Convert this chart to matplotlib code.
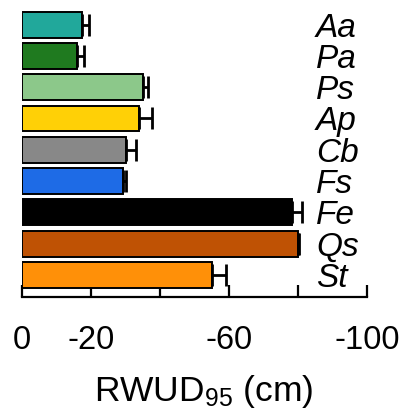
import matplotlib
matplotlib.use("Agg")
import matplotlib.pyplot as plt
import numpy as np

plt.rcParams['font.family'] = ['Liberation Sans', 'DejaVu Sans']
plt.rcParams['mathtext.default'] = 'regular'

species = ["St", "Qs", "Fe", "Fs", "Cb", "Ap", "Ps", "Pa", "Aa"]
rwud95 = [-54.9, -80.0, -78.2, -29.1, -30.1, -33.9, -35.1, -16.0, -17.2]
err = [4.1, 0.3, 2.8, 1.0, 2.9, 3.7, 1.4, 2.0, 2.2]
colors = ["#FF9008", "#BF5204", "#000000", "#1E6BE6", "#888888", "#FFD006", "#8CC88A", "#1F7A1F", "#21A89B"]
xticks = [0, -20, -40, -60, -80, -100]
xticklabels = ["0", "-20", "", "-60", "", "-100"]

fig = plt.figure(figsize=(4.05, 4.08), dpi=100)
ax = fig.add_axes([0.055, 0.272, 0.852, 0.702])

y = np.arange(len(species))
ax.barh(y, rwud95, height=0.83, color=colors, edgecolor="black", linewidth=1.4, zorder=2)
ax.errorbar(rwud95, y, xerr=[err, np.zeros(len(err))], fmt="none", ecolor="black",
            elinewidth=2.0, capsize=8, capthick=2.0, zorder=3)

for i, s in enumerate(species):
    ax.text(-85.1, i - 0.384, s, fontsize=24, style="italic", ha="left", va="baseline")

ax.set_xlim(0, -100)
ax.set_ylim(-0.71, 8.45)
ax.set_xticks(xticks)
ax.set_xticklabels(xticklabels, fontsize=23.5)
ax.set_yticks([])
for sp in ["left", "right", "top"]:
    ax.spines[sp].set_visible(False)
ax.spines["bottom"].set_linewidth(1.6)
ax.tick_params(axis="x", direction="in", length=8.6, width=1.6, pad=20)

fig.text(0.502, 1 - 400.5 / 408, "RWUD$_{95}$ (cm)", fontsize=25.5, ha="center", va="baseline")

fig.savefig("out.png", dpi=100)
